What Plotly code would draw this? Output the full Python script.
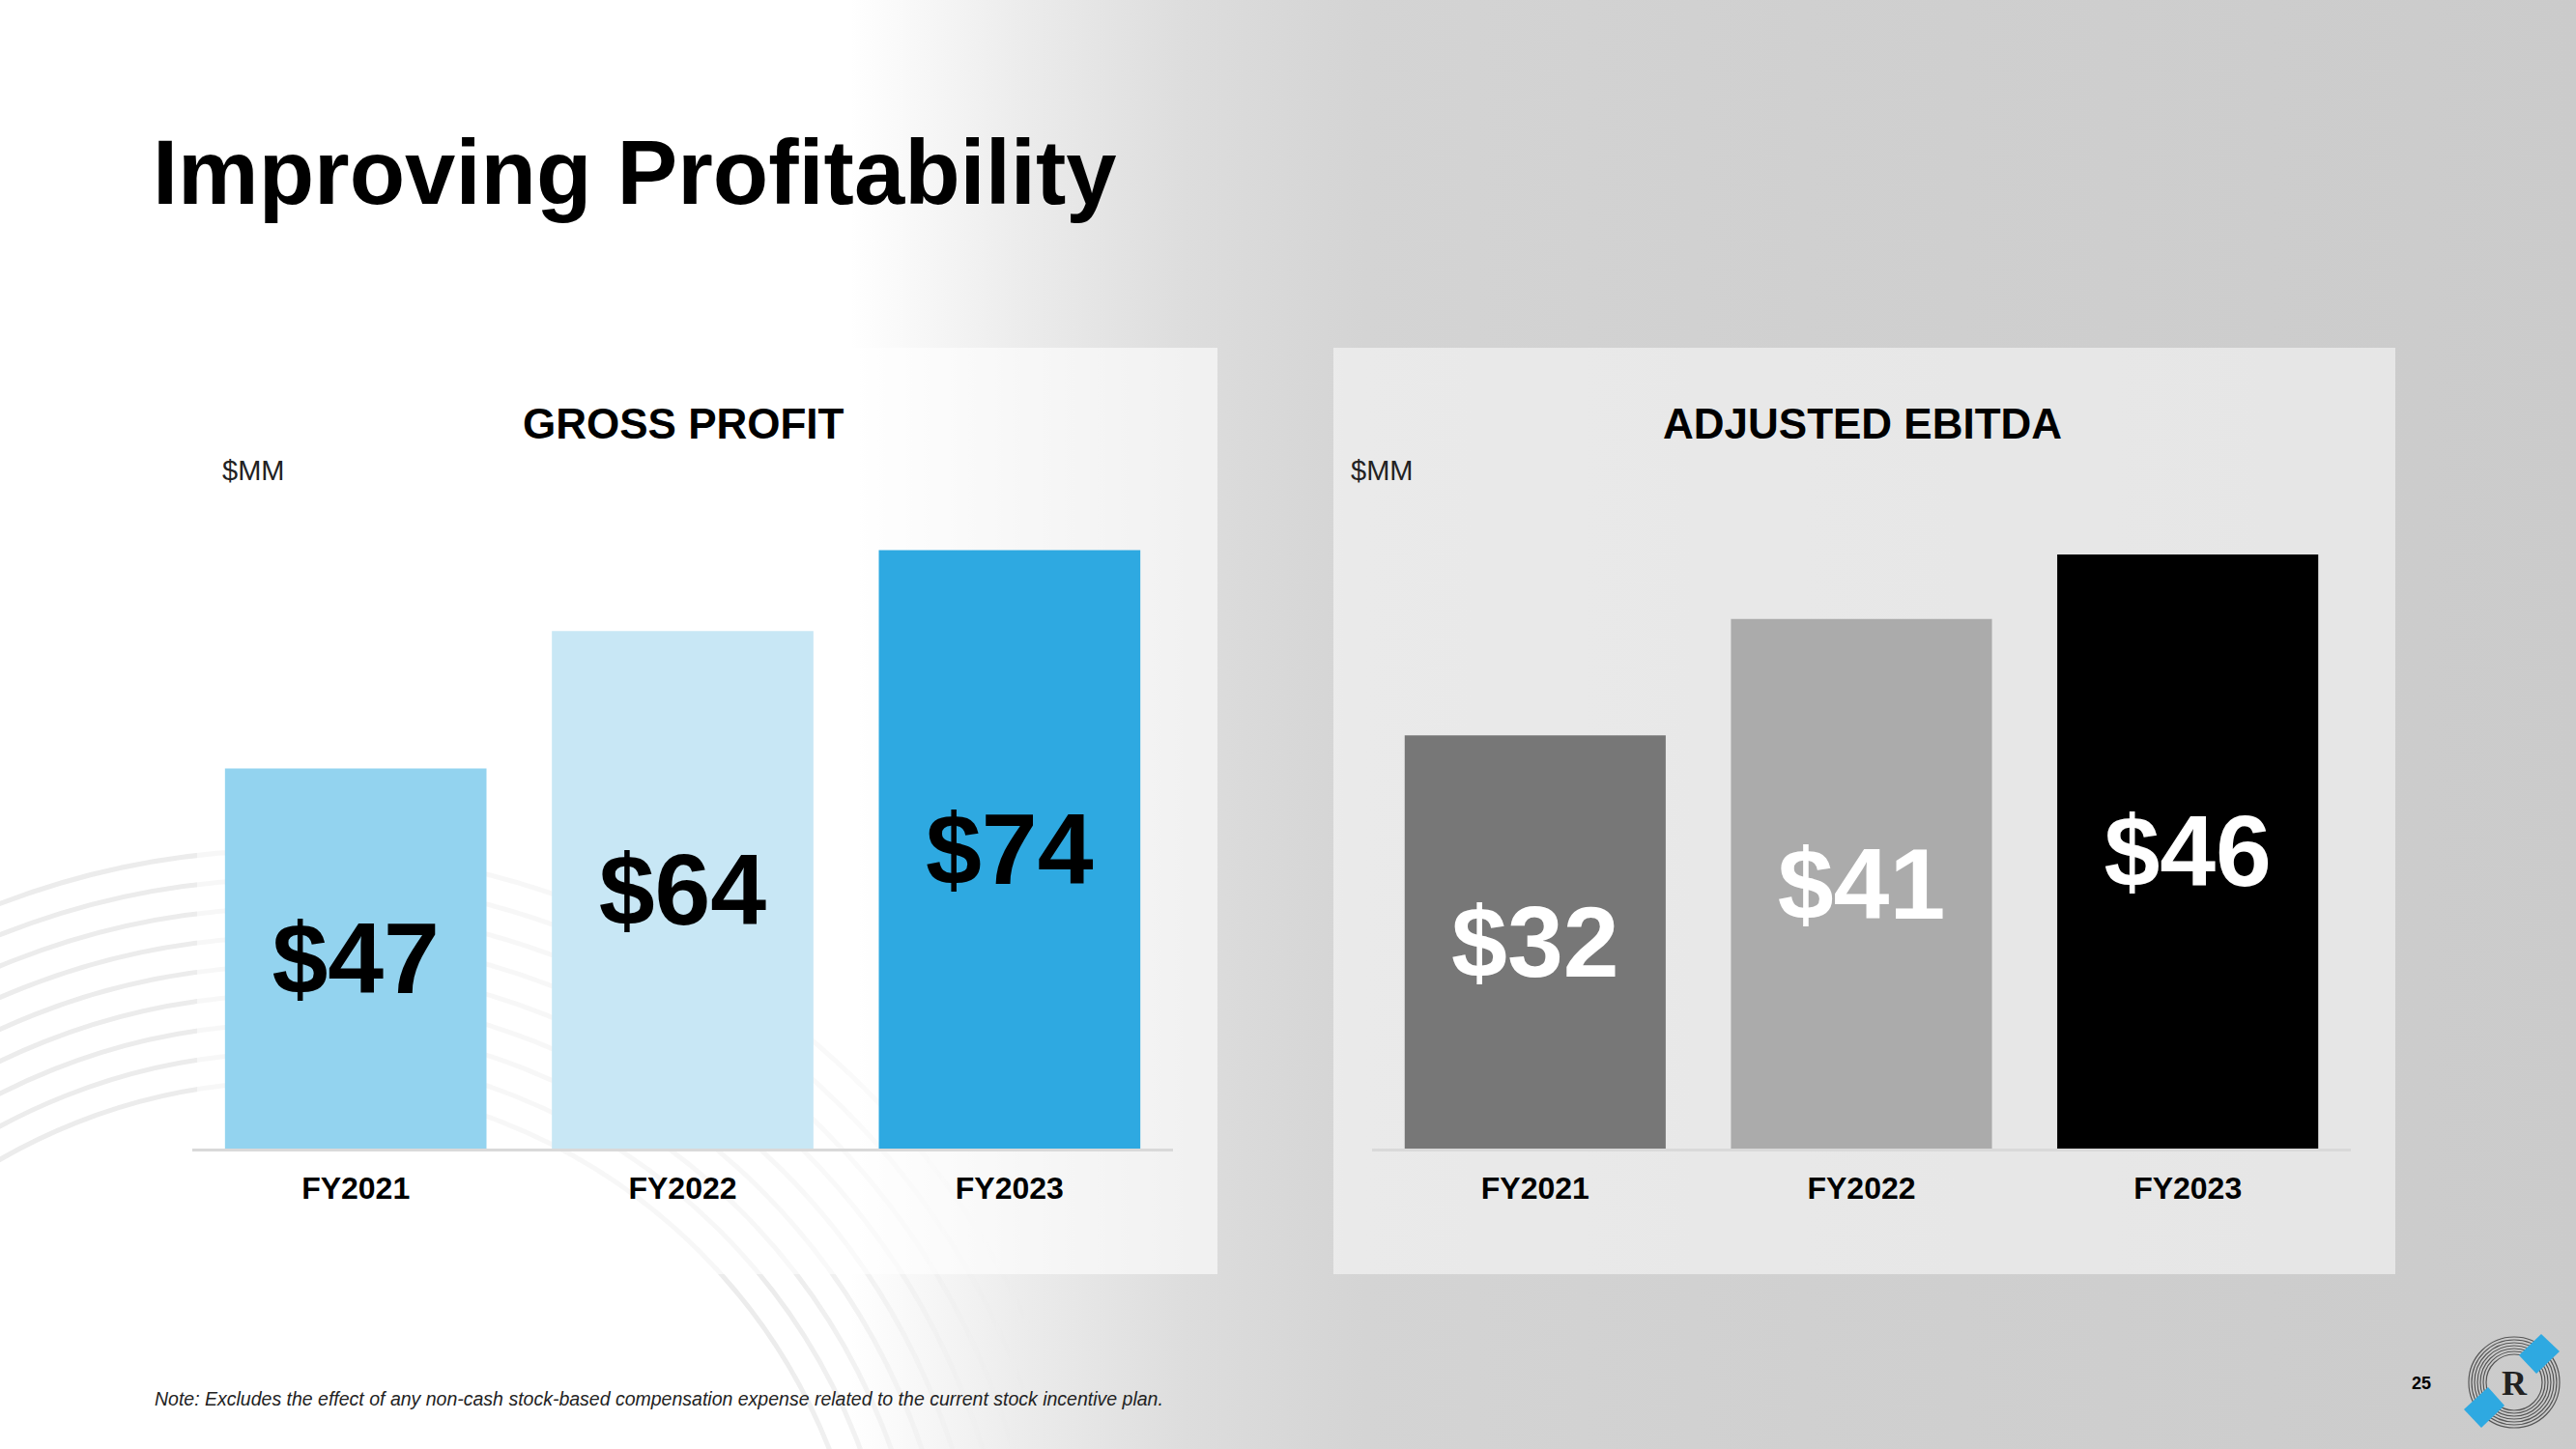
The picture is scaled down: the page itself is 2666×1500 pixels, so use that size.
import base64
import plotly.graph_objects as go

# ---------------- data ----------------
categories = ["FY2021", "FY2022", "FY2023"]
gross_profit = [47, 64, 74]
adjusted_ebitda = [32, 41, 46]
gp_colors = ["#93d3ef", "#c8e7f5", "#2ea9e1"]
eb_colors = ["#777777", "#ababab", "#000000"]
gp_label_color = "#000000"
eb_label_color = "#ffffff"

title_text = "Improving Profitability"
panel_titles = ["GROSS PROFIT", "ADJUSTED EBITDA"]
unit_text = "$MM"
note_text = ("Note: Excludes the effect of any non-cash stock-based compensation "
             "expense related to the current stock incentive plan.")
page_number = "25"

# ---------------- geometry helpers ----------------
W, H = 2666, 1500
FONT = "Liberation Sans, Arial, sans-serif"


def px(x):
    return x / W


def py(y):
    return 1 - y / H


# background (gradient + faint arcs) as an inline svg image
arcs = "".join(
    f'<circle cx="300" cy="1720" r="{r}" fill="none" stroke="#ececec" stroke-width="5"/>'
    for r in range(600, 860, 30)
)
svg = f'''<svg xmlns="http://www.w3.org/2000/svg" width="{W}" height="{H}" viewBox="0 0 {W} {H}">
<defs><linearGradient id="g" x1="0" y1="0" x2="1" y2="0">
<stop offset="0" stop-color="#ffffff"/>
<stop offset="0.33" stop-color="#ffffff"/>
<stop offset="0.40" stop-color="#ebebeb"/>
<stop offset="0.46" stop-color="#dddddd"/>
<stop offset="0.53" stop-color="#d4d4d4"/>
<stop offset="0.70" stop-color="#d0d0d0"/>
<stop offset="1" stop-color="#cbcbcb"/>
</linearGradient>
<linearGradient id="fade" x1="0" y1="0" x2="1" y2="0">
<stop offset="0" stop-color="#ffffff" stop-opacity="1"/>
<stop offset="0.30" stop-color="#ffffff" stop-opacity="1"/>
<stop offset="0.40" stop-color="#ffffff" stop-opacity="0"/>
</linearGradient>
<mask id="m"><rect width="{W}" height="{H}" fill="url(#fade)"/></mask>
</defs>
<rect width="{W}" height="{H}" fill="url(#g)"/>
<g mask="url(#m)">{arcs}</g>
</svg>'''
bg_uri = "data:image/svg+xml;base64," + base64.b64encode(svg.encode()).decode()

fig = go.Figure()

fig.add_trace(go.Bar(
    x=categories, y=gross_profit, xaxis="x", yaxis="y",
    marker=dict(color=gp_colors, line=dict(width=0)),
    text=[f"${v}" for v in gross_profit],
    textposition="inside", insidetextanchor="middle", textangle=0,
    textfont=dict(family=FONT, size=104, color=gp_label_color, weight="bold"),
    hoverinfo="skip", showlegend=False,
))
fig.add_trace(go.Bar(
    x=categories, y=adjusted_ebitda, xaxis="x2", yaxis="y2",
    marker=dict(color=eb_colors, line=dict(width=0)),
    text=[f"${v}" for v in adjusted_ebitda],
    textposition="inside", insidetextanchor="middle", textangle=0,
    textfont=dict(family=FONT, size=104, color=eb_label_color, weight="bold"),
    hoverinfo="skip", showlegend=False,
))

axis_common = dict(
    type="category", range=[-0.5, 2.5], showgrid=False, zeroline=False,
    showline=True, linecolor="#d9d9d9", linewidth=3, ticks="",
    tickfont=dict(family=FONT, size=32, color="#000000", weight="bold"),
    ticklabelstandoff=11, fixedrange=True,
)
y_bottom, y_top = 1189, 500
ydom = [py(y_bottom), py(y_top)]

fig.update_layout(
    width=W, height=H, margin=dict(l=0, r=0, t=0, b=0),
    paper_bgcolor="#ffffff", plot_bgcolor="rgba(0,0,0,0)",
    bargap=0.2, showlegend=False,
    xaxis=dict(domain=[px(199), px(1214)], anchor="y", **axis_common),
    xaxis2=dict(domain=[px(1420), px(2433)], anchor="y2", **axis_common),
    yaxis=dict(domain=ydom, range=[0, (y_bottom - y_top) / 8.37], visible=False, fixedrange=True),
    yaxis2=dict(domain=ydom, range=[0, (y_bottom - y_top) / 13.37], visible=False, fixedrange=True),
    images=[dict(source=bg_uri, xref="paper", yref="paper", x=0, y=1, sizex=1, sizey=1,
                 xanchor="left", yanchor="top", sizing="stretch", layer="below")],
)

shapes = [
    # chart panels
    dict(type="rect", xref="paper", yref="paper", x0=px(204), x1=px(1260), y0=py(1319), y1=py(360),
         fillcolor="rgba(255,255,255,0.6)", line=dict(width=0), layer="below"),
    dict(type="rect", xref="paper", yref="paper", x0=px(1380), x1=px(2479), y0=py(1319), y1=py(360),
         fillcolor="rgba(255,255,255,0.5)", line=dict(width=0), layer="below"),
]

# logo: concentric rings + two blue rotated squares
cx, cy = 2602, 1431
for r in [29, 32, 35, 38, 41, 44, 47]:
    shapes.append(dict(type="circle", xref="paper", yref="paper",
                       x0=px(cx - r), x1=px(cx + r), y0=py(cy + r), y1=py(cy - r),
                       line=dict(color="#555555", width=1.2), layer="above"))


def poly(points):
    return "M " + " L ".join(f"{px(x):.5f},{py(y):.5f}" for x, y in points) + " Z"


for pts in ([(2607, 1403), (2630, 1381), (2649, 1399), (2625, 1422)],
            [(2550, 1459), (2575, 1436), (2592, 1455), (2568, 1478)]):
    shapes.append(dict(type="path", xref="paper", yref="paper", path=poly(pts),
                       fillcolor="#2ea9e1", line=dict(width=0), layer="above"))
fig.update_layout(shapes=shapes)

annotations = [
    dict(text=title_text, x=px(156), y=py(178), xanchor="left", yanchor="middle",
         font=dict(family=FONT, size=94, color="#000000", weight="bold")),
    dict(text=panel_titles[0], x=px(707), y=py(439), xanchor="center", yanchor="middle",
         font=dict(family=FONT, size=44, color="#000000", weight="bold")),
    dict(text=panel_titles[1], x=px(1927), y=py(439), xanchor="center", yanchor="middle",
         font=dict(family=FONT, size=44, color="#000000", weight="bold")),
    dict(text=unit_text, x=px(228), y=py(487), xanchor="left", yanchor="middle",
         font=dict(family=FONT, size=29, color="#222222")),
    dict(text=unit_text, x=px(1396), y=py(487), xanchor="left", yanchor="middle",
         font=dict(family=FONT, size=29, color="#222222")),
    dict(text=note_text, x=px(158), y=py(1448), xanchor="left", yanchor="middle",
         font=dict(family=FONT, size=19.5, color="#222222", style="italic")),
    dict(text=page_number, x=px(2506), y=py(1432), xanchor="center", yanchor="middle",
         font=dict(family=FONT, size=18, color="#000000", weight="bold")),
    dict(text="R", x=px(cx), y=py(cy + 1), xanchor="center", yanchor="middle",
         font=dict(family="Liberation Serif, DejaVu Serif, serif", size=36, color="#222222", weight="bold")),
]
for a in annotations:
    a.update(xref="paper", yref="paper", showarrow=False)
fig.update_layout(annotations=annotations)

fig.write_html("out.html")
